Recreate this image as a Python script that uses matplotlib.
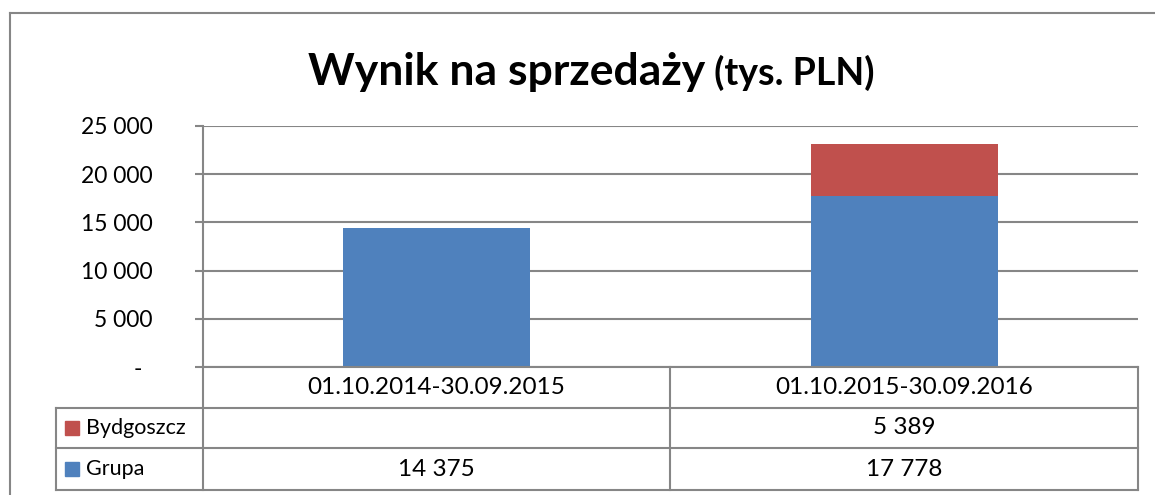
import matplotlib
matplotlib.use("Agg")
from matplotlib import pyplot as plt
from matplotlib.lines import Line2D
from matplotlib.patches import Rectangle

# data
periods = ["01.10.2014-30.09.2015", "01.10.2015-30.09.2016"]
grupa = [14375, 17778]
bydgoszcz = [0, 5389]
series_names = ["Bydgoszcz", "Grupa"]
yticks = [0, 5000, 10000, 15000, 20000, 25000]

BLUE = "#4F81BD"
RED = "#C0504D"
GRID = "#868686"
W, H = 1155, 495

plt.rcParams["font.family"] = ["Lato", "DejaVu Sans"]

fig = plt.figure(figsize=(W / 100, H / 100), dpi=100)


# pixel (from top-left) -> figure fraction
def fx(px):
    return px / W


def fy(py):
    return 1 - py / H


def fmt(v):
    return f"{v:,}".replace(",", " ")


# outer chart border
fig.add_artist(Line2D([fx(10), fx(10)], [fy(13), 0], color=GRID, lw=1.5))
fig.add_artist(Line2D([fx(10), 1], [fy(13), fy(13)], color=GRID, lw=1.5))

# plot area
left, right, top, bottom = 203, 1138, 126, 367
ax = fig.add_axes([fx(left), fy(bottom), fx(right) - fx(left), fy(top) - fy(bottom)])
x = range(len(periods))
ax.bar(x, grupa, width=0.4, color=BLUE, zorder=3)
ax.bar(x, bydgoszcz, width=0.4, bottom=grupa, color=RED, zorder=3)
ax.set_xlim(-0.5, len(periods) - 0.5)
ax.set_ylim(0, 25000)
ax.set_yticks(yticks)
ax.set_yticklabels(["-" if v == 0 else fmt(v) for v in yticks])
ax.set_xticks([])
ax.get_yticklabels()[0].set_x(-0.012)
ax.tick_params(axis="y", length=6, width=1.5, color=GRID, pad=30, labelsize=16.5)
ax.grid(axis="y", color=GRID, lw=1.5, zorder=0)
for s in ["top", "right", "bottom"]:
    ax.spines[s].set_visible(False)
ax.spines["left"].set_color(GRID)
ax.spines["left"].set_linewidth(1.5)
ax.set_facecolor("none")

# data table under the plot
rows = [367, 408, 448, 490]
cols = [left, 670, right]
legend_left = 56
lw = 1.5
for i, r in enumerate(rows):
    x0 = left if i == 0 else legend_left
    fig.add_artist(Line2D([fx(x0), fx(right)], [fy(r), fy(r)], color=GRID, lw=lw))
for c in cols:
    fig.add_artist(Line2D([fx(c), fx(c)], [fy(rows[0]), fy(rows[-1])], color=GRID, lw=lw))
fig.add_artist(Line2D([fx(legend_left), fx(legend_left)], [fy(rows[1]), fy(rows[-1])], color=GRID, lw=lw))

fs = 17.5
for j, p in enumerate(periods):
    cx = (cols[j] + cols[j + 1]) / 2
    fig.text(fx(cx), fy((rows[0] + rows[1]) / 2), p, ha="center", va="center", fontsize=fs)

table_vals = [bydgoszcz, grupa]
colors = [RED, BLUE]
for i, (name, vals, col) in enumerate(zip(series_names, table_vals, colors)):
    cy = (rows[i + 1] + rows[i + 2]) / 2
    fig.add_artist(Rectangle((fx(65), fy(cy + 7)), fx(14), fy(0) - fy(14), color=col,
                             transform=fig.transFigure))
    fig.text(fx(86), fy(cy), name, ha="left", va="center", fontsize=15.5)
    for j, v in enumerate(vals):
        if v:
            cx = (cols[j] + cols[j + 1]) / 2
            fig.text(fx(cx), fy(cy), fmt(v), ha="center", va="center", fontsize=fs)

# title in two sizes, centred together
t1 = fig.text(0, fy(85), "Wynik na sprzedaży", fontsize=32, fontweight="bold", va="baseline")
t2 = fig.text(0, fy(85), " (tys. PLN)", fontsize=27, fontweight="bold", va="baseline")
r = fig.canvas.get_renderer()
w1 = t1.get_window_extent(r).width
w2 = t2.get_window_extent(r).width
start = 591 - (w1 + w2) / 2
t1.set_x(fx(start))
t2.set_x(fx(start + w1))

fig.savefig("out.png", dpi=100)
